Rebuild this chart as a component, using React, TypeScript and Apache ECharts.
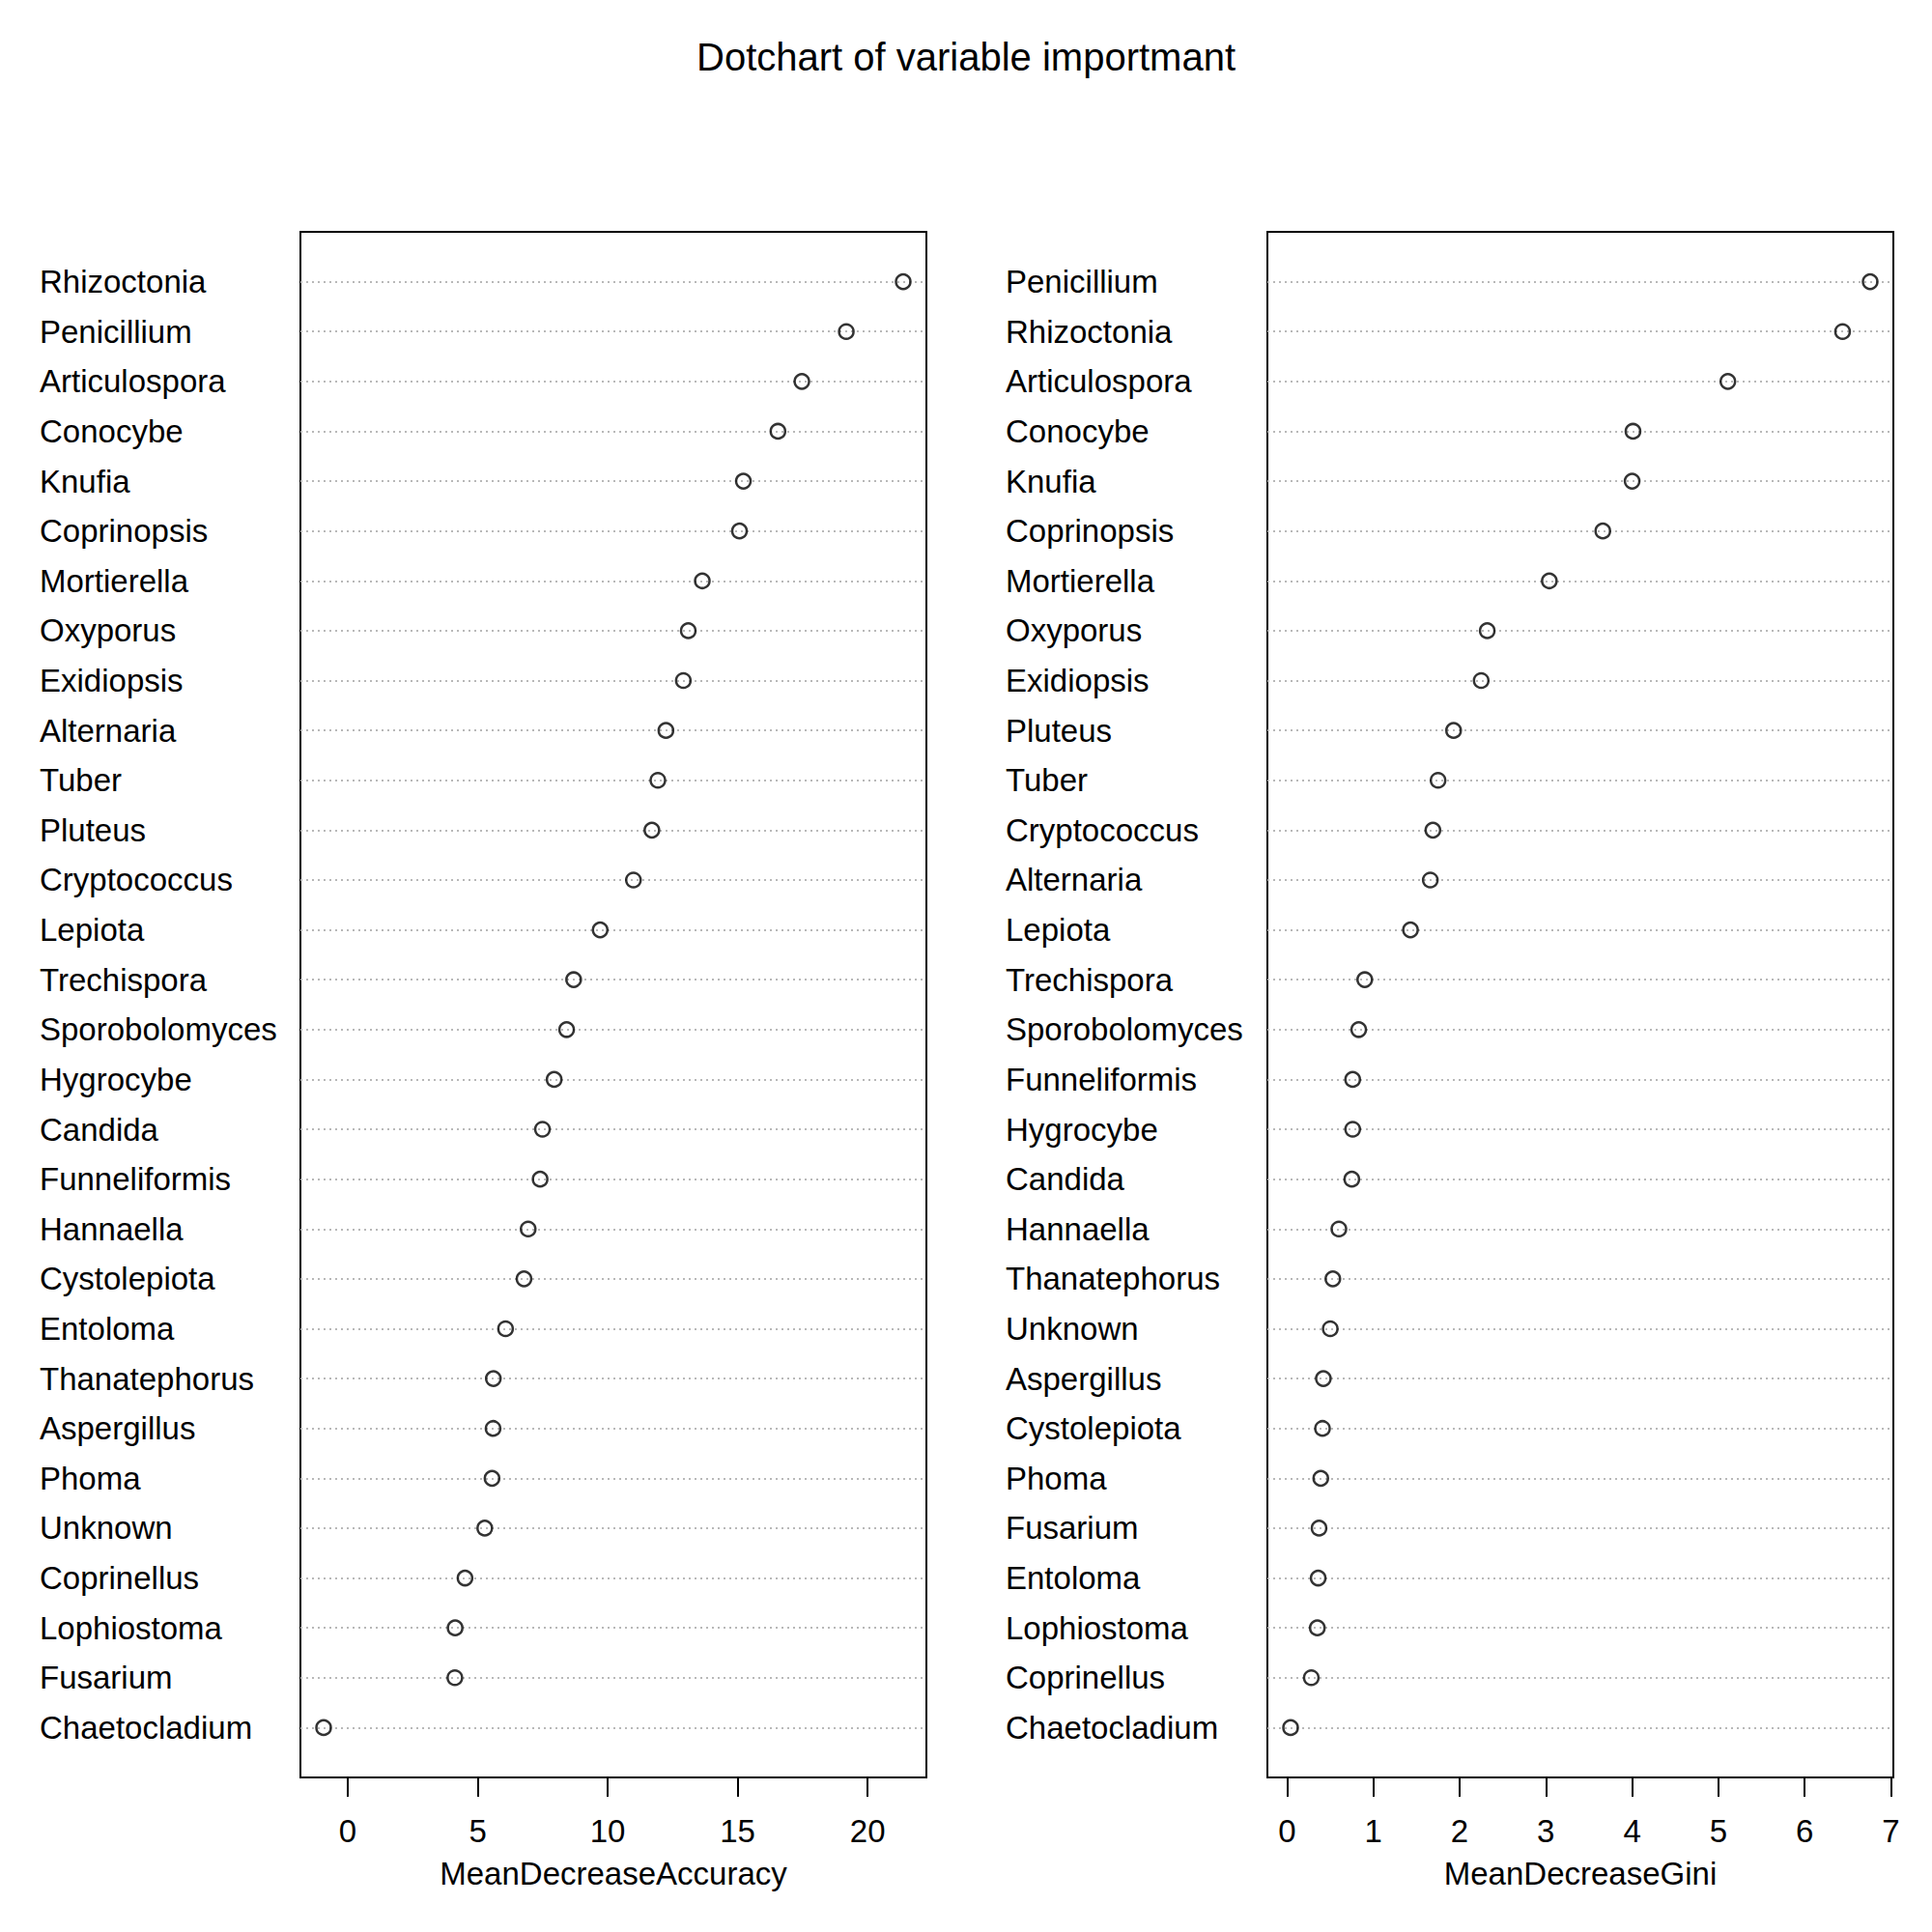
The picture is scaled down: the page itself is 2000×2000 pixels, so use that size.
import React, { useEffect, useRef } from "react";
import * as echarts from "echarts";

const chartTitle = "Dotchart of variable importmant";

const accNames = [
  "Rhizoctonia", "Penicillium", "Articulospora", "Conocybe", "Knufia", "Coprinopsis",
  "Mortierella", "Oxyporus", "Exidiopsis", "Alternaria", "Tuber", "Pluteus",
  "Cryptococcus", "Lepiota", "Trechispora", "Sporobolomyces", "Hygrocybe", "Candida",
  "Funneliformis", "Hannaella", "Cystolepiota", "Entoloma", "Thanatephorus", "Aspergillus",
  "Phoma", "Unknown", "Coprinellus", "Lophiostoma", "Fusarium", "Chaetocladium",
];
const accValues = [
  21.37, 19.18, 17.47, 16.55, 15.22, 15.07, 13.64, 13.1, 12.91, 12.24, 11.93, 11.7,
  10.99, 9.71, 8.69, 8.42, 7.94, 7.49, 7.4, 6.94, 6.78, 6.07, 5.6, 5.59, 5.55, 5.27,
  4.51, 4.13, 4.12, -0.93,
];
const accTicks = [0, 5, 10, 15, 20];
const accTitle = "MeanDecreaseAccuracy";

const giniNames = [
  "Penicillium", "Rhizoctonia", "Articulospora", "Conocybe", "Knufia", "Coprinopsis",
  "Mortierella", "Oxyporus", "Exidiopsis", "Pluteus", "Tuber", "Cryptococcus",
  "Alternaria", "Lepiota", "Trechispora", "Sporobolomyces", "Funneliformis", "Hygrocybe",
  "Candida", "Hannaella", "Thanatephorus", "Unknown", "Aspergillus", "Cystolepiota",
  "Phoma", "Fusarium", "Entoloma", "Lophiostoma", "Coprinellus", "Chaetocladium",
];
const giniValues = [
  6.76, 6.44, 5.11, 4.01, 4.0, 3.66, 3.04, 2.32, 2.25, 1.93, 1.75, 1.69, 1.66, 1.43,
  0.9, 0.83, 0.76, 0.76, 0.75, 0.6, 0.53, 0.5, 0.42, 0.41, 0.39, 0.37, 0.36, 0.35,
  0.28, 0.04,
];
const giniTicks = [0, 1, 2, 3, 4, 5, 6, 7];
const giniTitle = "MeanDecreaseGini";

const FONT = "'Liberation Sans', Arial, Helvetica, sans-serif";

function extRange(vals: number[]): [number, number] {
  const lo = Math.min(...vals);
  const hi = Math.max(...vals);
  const d = (hi - lo) * 0.04;
  return [lo - d, hi + d];
}

export default function App() {
  const ref = useRef<HTMLDivElement>(null);

  useEffect(() => {
    if (!ref.current) return;
    const chart = echarts.init(ref.current, null, { renderer: "svg" });
    const panels = [
      { names: accNames, values: accValues, ticks: accTicks, title: accTitle, left: 311, labelMargin: 270 },
      { names: giniNames, values: giniValues, ticks: giniTicks, title: giniTitle, left: 1312, labelMargin: 271 },
    ];
    const n = accNames.length;
    const rows = accNames.map((_, i) => n - i);

    const option: any = {
      animation: false,
      backgroundColor: "#ffffff",
      title: {
        text: chartTitle,
        left: "center",
        top: 34,
        textStyle: { fontSize: 40, fontWeight: "normal", color: "#000", fontFamily: FONT },
      },
      grid: panels.map((p) => ({
        left: p.left,
        top: 240,
        width: 648,
        height: 1600,
        show: true,
        borderColor: "#000",
        borderWidth: 2,
        backgroundColor: "transparent",
      })),
      xAxis: panels.map((p, gi) => {
        const [mn, mx] = extRange(p.values);
        return {
          type: "value",
          gridIndex: gi,
          min: mn,
          max: mx,
          name: p.title,
          nameLocation: "middle",
          nameGap: 83,
          nameTextStyle: { fontSize: 33, color: "#000", fontFamily: FONT },
          axisLine: { show: false },
          splitLine: { show: false },
          axisTick: {
            show: true,
            customValues: p.ticks,
            length: 20,
            lineStyle: { color: "#000", width: 2 },
          },
          axisLabel: {
            show: true,
            customValues: p.ticks,
            margin: 39,
            fontSize: 33,
            color: "#000",
            fontFamily: FONT,
            formatter: (v: number) => String(v),
          },
        };
      }),
      yAxis: panels.map((p, gi) => ({
        type: "value",
        gridIndex: gi,
        min: 0,
        max: n + 1,
        axisLine: { show: false },
        axisTick: { show: false },
        splitLine: { show: false },
        axisLabel: {
          show: true,
          customValues: rows,
          align: "left",
          margin: p.labelMargin,
          fontSize: 33,
          color: "#000",
          fontFamily: FONT,
          formatter: (v: number) => p.names[n - Math.round(v)] ?? "",
        },
      })),
      series: panels.map((p, gi) => ({
        type: "scatter",
        xAxisIndex: gi,
        yAxisIndex: gi,
        symbol: "circle",
        symbolSize: 15,
        itemStyle: { color: "rgba(255,255,255,0)", borderColor: "#000", borderWidth: 2.5 },
        data: p.values.map((v, i) => [v, n - i]),
        markLine: {
          silent: true,
          symbol: ["none", "none"],
          label: { show: false },
          lineStyle: { color: "#b8b8b8", width: 2, type: [2, 4] },
          data: rows.map((r) => ({ yAxis: r })),
          z: 1,
        },
        z: 3,
      })),
    };
    chart.setOption(option);
    return () => chart.dispose();
  }, []);

  return (
    <div
      ref={ref}
      style={{ position: "absolute", left: 0, top: 0, width: 2000, height: 2000 }}
    />
  );
}
